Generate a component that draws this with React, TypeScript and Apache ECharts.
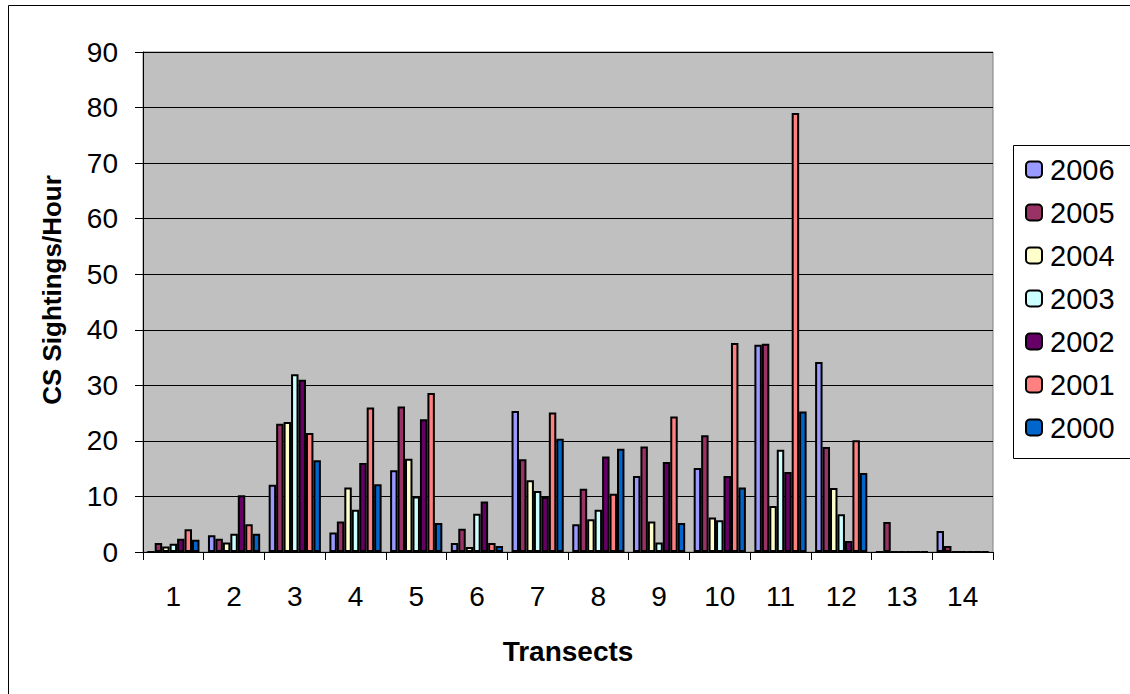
import React, { useEffect, useRef } from "react";
import * as echarts from "echarts";

const transects = ["1", "2", "3", "4", "5", "6", "7", "8", "9", "10", "11", "12", "13", "14"];
const years = ["2006", "2005", "2004", "2003", "2002", "2001", "2000"];
const colors = ["#9999FF", "#993366", "#FFFFCC", "#CCFFFF", "#660066", "#FF8080", "#0066CC"];

const s2006 = [0, 3.0, 12.1, 3.5, 14.7, 1.6, 25.4, 5.0, 13.7, 15.1, 37.3, 34.2, 0, 3.8];
const s2005 = [1.6, 2.4, 23.1, 5.5, 26.2, 4.2, 16.7, 11.4, 19.0, 21.0, 37.5, 18.9, 5.4, 1.1];
const s2004 = [1.0, 1.7, 23.4, 11.6, 16.8, 0.9, 12.9, 5.9, 5.5, 6.2, 8.3, 11.5, 0, 0];
const s2003 = [1.5, 3.3, 32.0, 7.6, 10.0, 6.9, 11.0, 7.6, 1.7, 5.7, 18.4, 6.8, 0, 0];
const s2002 = [2.4, 10.2, 31.0, 16.0, 23.9, 9.1, 9.9, 17.2, 16.2, 13.7, 14.4, 2.0, 0, 0];
const s2001 = [4.1, 5.0, 21.4, 26.0, 28.6, 1.6, 25.1, 10.5, 24.4, 37.6, 79.0, 20.1, 0, 0];
const s2000 = [2.2, 3.3, 16.5, 12.2, 5.2, 1.1, 20.4, 18.6, 5.2, 11.6, 25.3, 14.2, 0, 0];

const seriesData = [s2006, s2005, s2004, s2003, s2002, s2001, s2000];

const yTitle = "CS Sightings/Hour";
const xTitle = "Transects";

const FONT = "'Liberation Sans', Arial, Helvetica, sans-serif";

export default function App() {
  const ref = useRef<HTMLDivElement>(null);

  useEffect(() => {
    document.body.style.margin = "0";
    if (!ref.current) return;
    const chart = echarts.init(ref.current, undefined, { renderer: "svg" });
    chart.setOption({
      animation: false,
      backgroundColor: "#FFFFFF",
      textStyle: { fontFamily: FONT },
      grid: {
        left: 143,
        top: 52,
        right: 137,
        bottom: 142,
        show: true,
        backgroundColor: "#C0C0C0",
        borderColor: "#808080",
        borderWidth: 1,
      },
      legend: {
        orient: "vertical",
        left: 1013,
        top: 145,
        padding: [10, 4, 15, 12],
        itemWidth: 16,
        itemHeight: 16,
        itemGap: 14,
        borderWidth: 0,
        z: 10,
        data: years,
        textStyle: {
          fontFamily: FONT,
          fontSize: 29,
          lineHeight: 29,
          color: "#000000",
          padding: [0, 0, 0, 3],
        },
      },
      xAxis: {
        type: "category",
        data: transects,
        name: xTitle,
        nameLocation: "middle",
        nameGap: 85,
        nameTextStyle: {
          fontFamily: FONT,
          fontSize: 28,
          fontWeight: "bold",
          color: "#000000",
        },
        axisLine: { show: true, lineStyle: { color: "#000000", width: 1 } },
        axisTick: { show: true, alignWithLabel: false, length: 8, lineStyle: { color: "#000000" } },
        axisLabel: { fontFamily: FONT, fontSize: 28, color: "#000000", margin: 30 },
        splitLine: { show: false },
      },
      yAxis: {
        type: "value",
        min: 0,
        max: 90,
        interval: 10,
        axisLine: { show: true, lineStyle: { color: "#000000", width: 1 } },
        axisTick: { show: true, inside: false, length: 8, lineStyle: { color: "#000000" } },
        axisLabel: { fontFamily: FONT, fontSize: 28, color: "#000000", margin: 25 },
        splitLine: { show: true, lineStyle: { color: "#000000", width: 1 } },
      },
      graphic: [
        {
          type: "rect",
          z: -10,
          silent: true,
          shape: { x: 8.5, y: 5.5, width: 1300, height: 800 },
          style: { fill: "none", stroke: "#000000", lineWidth: 1 },
        },
        {
          type: "rect",
          z: 1,
          silent: true,
          shape: { x: 1013.5, y: 145.5, width: 300, height: 313 },
          style: { fill: "#FFFFFF", stroke: "#000000", lineWidth: 1 },
        },
        {
          type: "text",
          x: 52,
          y: 290,
          rotation: Math.PI / 2,
          style: {
            text: yTitle,
            font: `bold 26px ${FONT}`,
            fill: "#000000",
            textAlign: "center",
            textVerticalAlign: "middle",
            align: "center",
            verticalAlign: "middle",
          },
        },
      ],
      series: years.map((y, i) => ({
        name: y,
        type: "bar",
        data: seriesData[i],
        barGap: "0%",
        barCategoryGap: "14%",
        itemStyle: {
          color: colors[i],
          borderColor: "#000000",
          borderWidth: 2,
        },
      })),
    });
    return () => chart.dispose();
  }, []);

  return <div ref={ref} style={{ width: 1130, height: 694 }} />;
}
